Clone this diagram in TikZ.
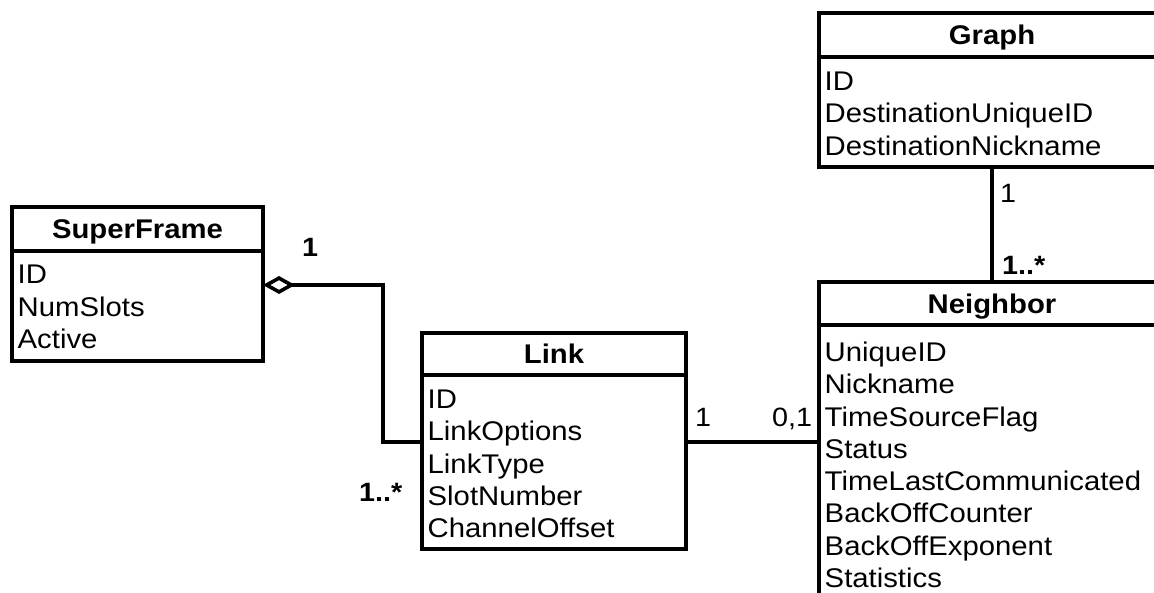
\documentclass[tikz,border=0pt]{standalone}
\usepackage{fontspec}
\usetikzlibrary{arrows.meta}
\newfontfamily\umlfont[FakeStretch=1.085]{Liberation Sans}
\newcommand\attrfont{\umlfont\fontsize{27}{32.3}\selectfont}
\newcommand\headfont{\umlfont\bfseries\fontsize{27}{32.3}\selectfont}
\newcommand\lblfont{\umlfont\fontsize{26.5}{30}\selectfont}
\newcommand\lblbfont{\umlfont\bfseries\fontsize{26.5}{30}\selectfont}
\begin{document}
\begin{tikzpicture}[x=1pt,y=-1pt,
  box/.style={draw, line width=3.6pt, inner sep=0pt, outer sep=0pt, anchor=north west},
  hdr/.style={box, font=\headfont, text height=19.3pt, text depth=0pt},
  attrs/.style={anchor=north west, align=left, inner sep=0pt, font=\attrfont},
  lbl/.style={anchor=base west, inner sep=0pt, font=\lblfont},
  lblb/.style={anchor=base west, inner sep=0pt, font=\lblbfont},
  conn/.style={line width=3.6pt},
  aggr/.style={conn, {Diamond[open,length=32pt,width=18pt]}-}]
\useasboundingbox (0,0) rectangle (1154,593);
\fill[white] (0,0) rectangle (1154,593);
\clip (0,0) rectangle (1154,593);
% SuperFrame
\node[hdr, minimum width=251pt, minimum height=44pt] (sfh) at (12,207) {SuperFrame};
\node[box, minimum width=251pt, minimum height=110pt] (sfb) at (sfh.south west) {};
\node[attrs] (sfa) at (17.5,265) {ID\\NumSlots\\Active};
% Link
\node[hdr, minimum width=264pt, minimum height=42pt] (lkh) at (422,333) {Link};
\node[box, minimum width=264pt, minimum height=174pt] (lkb) at (lkh.south west) {};
\node[attrs] (lka) at (427.5,389.7) {ID\\LinkOptions\\LinkType\\SlotNumber\\ChannelOffset};
% Graph
\node[hdr, minimum width=346pt, minimum height=44pt] (gh) at (819,13) {Graph};
\node[box, minimum width=346pt, minimum height=110pt] (gb) at (gh.south west) {};
\node[attrs] (ga) at (824.5,71.7) {ID\\DestinationUniqueID\\DestinationNickname};
% Neighbor
\node[hdr, minimum width=346pt, minimum height=43pt] (nh) at (819,282) {Neighbor};
\node[box, minimum width=346pt, minimum height=320pt] (nb) at (nh.south west) {};
\node[attrs] (na) at (824.5,341.7) {UniqueID\\Nickname\\TimeSourceFlag\\Status\\TimeLastCommunicated\\BackOffCounter\\BackOffExponent\\Statistics};
% connectors
\coordinate (a1) at (383,285);
\coordinate (a2) at (383,442);
\draw[aggr] (sfb.east |- a1) -- (a1) |- (lkb.west |- a2);
\draw[conn] (lkb.east |- a2) -- (nb.west |- a2);
\draw[conn] (gb.south) -- (nh.north);
% multiplicities
\node[lblb] (m1) at (302,257) {1};
\node[lblb] (m2) at (359,501) {1..*};
\node[lbl] (m3) at (695,426) {1};
\node[lbl] (m4) at (772,426) {0,1};
\node[lbl] (m5) at (1000,203) {1};
\node[lblb] (m6) at (1002,275) {1..*};
\end{tikzpicture}
\end{document}
